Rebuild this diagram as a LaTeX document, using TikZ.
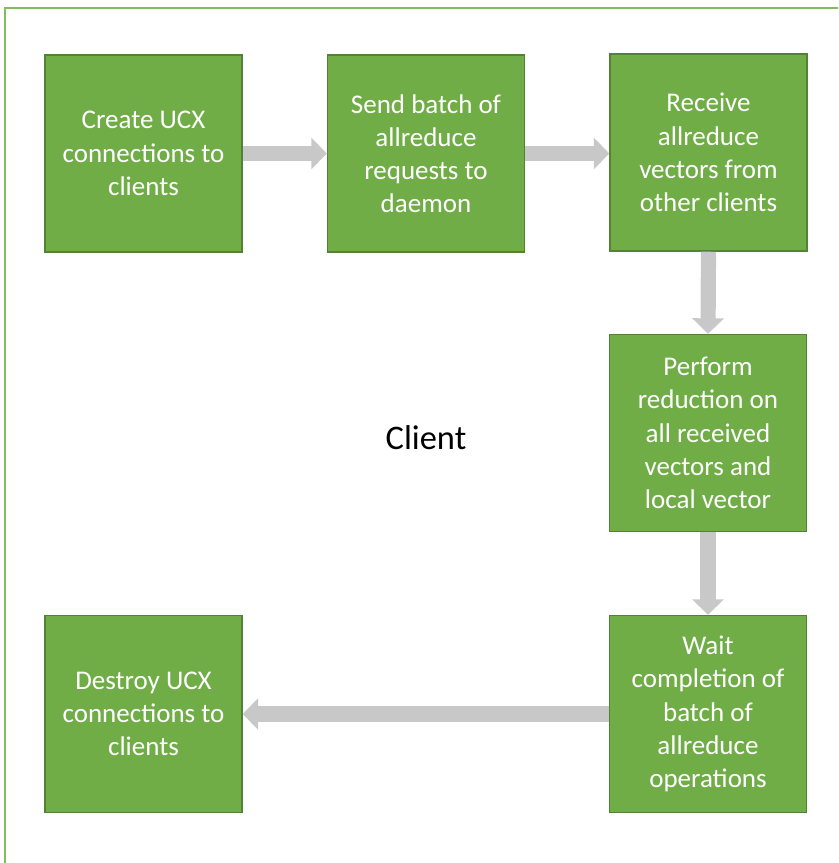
\documentclass[tikz,border=0pt]{standalone}
\usepackage{fontspec}
\setmainfont{Carlito}
\usepackage{tikz}
\usetikzlibrary{shapes,arrows.meta,positioning}
\definecolor{stepgreen}{HTML}{70AD47}
\definecolor{stepedge}{HTML}{548235}
\definecolor{framegreen}{HTML}{82BD5E}
\definecolor{arrowgray}{HTML}{C8C8C8}
\tikzstyle{greenblock}=[rectangle, draw=stepedge, fill=stepgreen, line width=1pt, align=center, text=white, minimum width=4.925cm, minimum height=4.925cm, inner sep=0pt, font=\fontsize{19.2}{23.6}\selectfont]
\tikzstyle{fatarrow}=[draw=arrowgray, line width=10.8pt, -{Triangle[width=22pt,length=11pt]}, arrowgray]

\begin{document}
\begin{tikzpicture}[x=0.025cm, y=-0.025cm]

\useasboundingbox (0,0) rectangle (838,863);
\begin{scope}
\clip (0,0) rectangle (838,863);
\draw[framegreen, line width=1.2pt] (5,8) rectangle (860,890);
\end{scope}

\node[greenblock](p1) at (143.5,153.5) {Create UCX \\ connections to \\ clients};
\node[greenblock](p2) at (426,153.5) {Send batch of \\ allreduce \\ requests to \\ daemon};
\node[greenblock](p3) at (708.5,152.5) {Receive \\ allreduce \\ vectors from \\ other clients};
\node[greenblock](p4) at (708,433) {Perform \\ reduction on \\ all received \\ vectors and \\ local vector};
\node[greenblock](p5) at (708,714) {Wait \\ completion of \\ batch of \\ allreduce \\ operations};
\node[greenblock](p6) at (143.5,714) {Destroy UCX \\ connections to \\ clients};
\node[font=\fontsize{24.5}{29}\selectfont] (client) at (426,438) {Client};

\draw[fatarrow](p1.east) -- (p2.west);
\draw[fatarrow](p2.east) -- (p2.east -| p3.west);
\draw[fatarrow](p3.south) -- (p4.north);
\draw[fatarrow](p4.south) -- (p5.north);
\draw[fatarrow](p5.west) -- (p6.east);

\end{tikzpicture}
\end{document}
